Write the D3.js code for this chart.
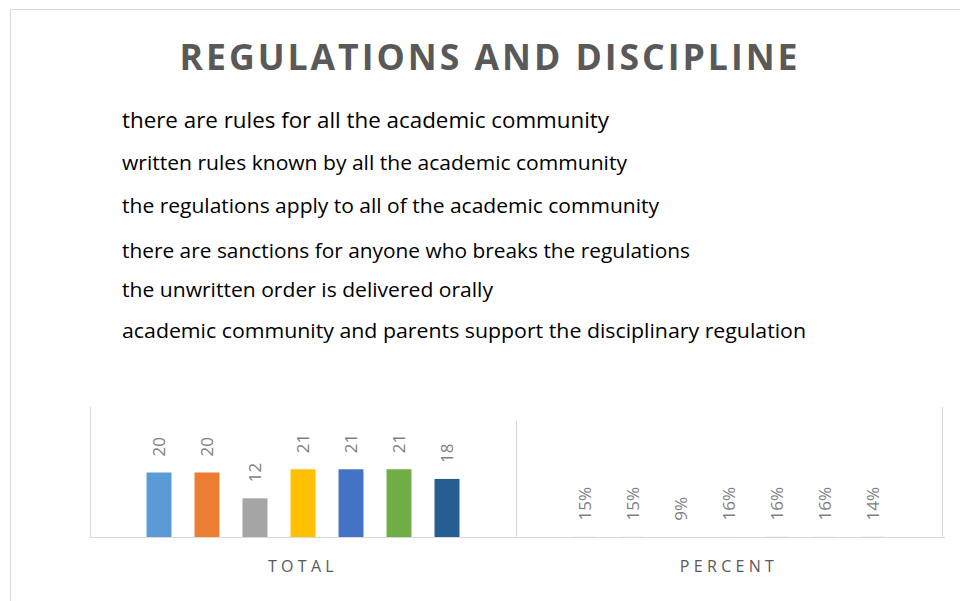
<!DOCTYPE html>
<html lang="en">
<head>
    <meta charset="UTF-8">
    <title>Regulations and discipline</title>
    <script src="https://cdn.jsdelivr.net/npm/d3@7"></script>
    <style>
        body { margin: 0; background: #fff; }
        svg { display: block; }
    </style>
</head>
<body>
    <div id="chart"></div>

    <script>
        // data
        var groups = ["TOTAL", "PERCENT"];
        var seriesNames = [
            "there are rules for all the academic community",
            "written rules known by all the academic community",
            "the regulations apply to all of the academic community",
            "there are sanctions for anyone who breaks the regulations",
            "the unwritten order is delivered orally",
            "academic community and parents support the disciplinary regulation"
        ];
        var totals = [20, 20, 12, 21, 21, 21, 18];
        var percents = [0.15, 0.15, 0.09, 0.16, 0.16, 0.16, 0.14];
        var colors = ["#5B9BD5", "#ED7D31", "#A5A5A5", "#FFC000", "#4472C4", "#70AD47", "#255E91"];

        var width = 960, height = 601;
        var svg = d3.select("#chart").append("svg")
                .attr("width", width)
                .attr("height", height);

        // outer frame
        svg.append("path")
                .attr("d", "M10.5,601 V9.5 H960")
                .attr("fill", "none")
                .attr("stroke", "#d9d9d9");

        svg.append("text")
                .attr("x", 490)
                .attr("y", 70)
                .attr("text-anchor", "middle")
                .attr("textLength", 621)
                .attr("lengthAdjust", "spacingAndGlyphs")
                .style("font-family", "'Liberation Sans Narrow', 'Open Sans', sans-serif")
                .style("font-weight", "bold")
                .style("font-size", "36px")
                .style("letter-spacing", "3px")
                .style("fill", "#595959")
                .text("REGULATIONS AND DISCIPLINE");

        // legend-like list of statements
        var lineY = [128, 170, 213, 258, 297, 338];
        var lineW = [487, 505, 537, 568, 371, 684];
        svg.append("g").selectAll("text")
                .data(seriesNames)
                .enter()
                .append("text")
                .attr("x", 122)
                .attr("y", function(d, i){ return lineY[i]; })
                .attr("textLength", function(d, i){ return lineW[i]; })
                .attr("lengthAdjust", "spacingAndGlyphs")
                .style("font-family", "'Liberation Sans Narrow', 'Open Sans', sans-serif")
                .style("font-size", function(d, i){ return (i === 0 ? 22 : 20) + "px"; })
                .style("fill", "#000")
                .text(function(d){ return d; });

        // chart
        var x0 = d3.scaleBand().domain(groups).range([90, 942]);
        var x1 = d3.scaleBand().domain(d3.range(totals.length))
                .range([0, x0.bandwidth()])
                .paddingInner(0.48)
                .paddingOuter(1.1775);
        var y = d3.scaleLinear().domain([0, 40]).range([537, 408]);

        var tableData = [totals, percents];
        var labelFmt = [d3.format("d"), d3.format(".0%")];

        var plot = svg.append("g");

        var grp = plot.selectAll("g.grp")
                .data(groups)
                .enter()
                .append("g")
                .attr("class", "grp")
                .attr("transform", function(d){ return "translate(" + x0(d) + ",0)"; });

        grp.selectAll("rect")
                .data(function(d, gi){ return tableData[gi].map(function(v, i){ return {v: v, i: i}; }); })
                .enter()
                .append("rect")
                .attr("x", function(d){ return x1(d.i); })
                .attr("y", function(d){ return y(d.v); })
                .attr("width", x1.bandwidth())
                .attr("height", function(d){ return y(0) - y(d.v); })
                .style("fill", function(d){ return colors[d.i]; })
                .style("opacity", function(d, i, n){ return d.v < 1 ? 0.15 : 1; });

        grp.selectAll("text.lbl")
                .data(function(d, gi){ return tableData[gi].map(function(v, i){ return {v: v, i: i, g: gi}; }); })
                .enter()
                .append("text")
                .attr("class", "lbl")
                .attr("transform", function(d){
                    return "translate(" + (x1(d.i) + x1.bandwidth() / 2 + 6) + "," + (y(d.v) - 16) + ") rotate(-90)";
                })
                .style("font-family", "'Open Sans', sans-serif")
                .style("font-size", "17px")
                .style("fill", "#7f7f7f")
                .text(function(d){ return labelFmt[d.g](d.v); });

        // axis line and category separators
        var axis = d3.axisBottom(x0).tickSize(0).tickPadding(23);
        var ax = plot.append("g")
                .attr("transform", "translate(0,537.5)")
                .call(axis);
        ax.select(".domain").attr("stroke", "#d9d9d9").attr("d", "M90,0H945");
        ax.selectAll(".tick text")
                .style("font-family", "'Open Sans', sans-serif")
                .style("font-size", "16px")
                .style("letter-spacing", "4.3px")
                .style("fill", "#595959");

        var seps = [90, 516, 942];
        var sepTop = [407, 421, 407];
        plot.selectAll("line.sep")
                .data(seps)
                .enter()
                .append("line")
                .attr("x1", function(d){ return d + 0.5; })
                .attr("x2", function(d){ return d + 0.5; })
                .attr("y1", function(d, i){ return sepTop[i]; })
                .attr("y2", 537)
                .attr("stroke", "#d9d9d9");
    </script>
</body>
</html>
